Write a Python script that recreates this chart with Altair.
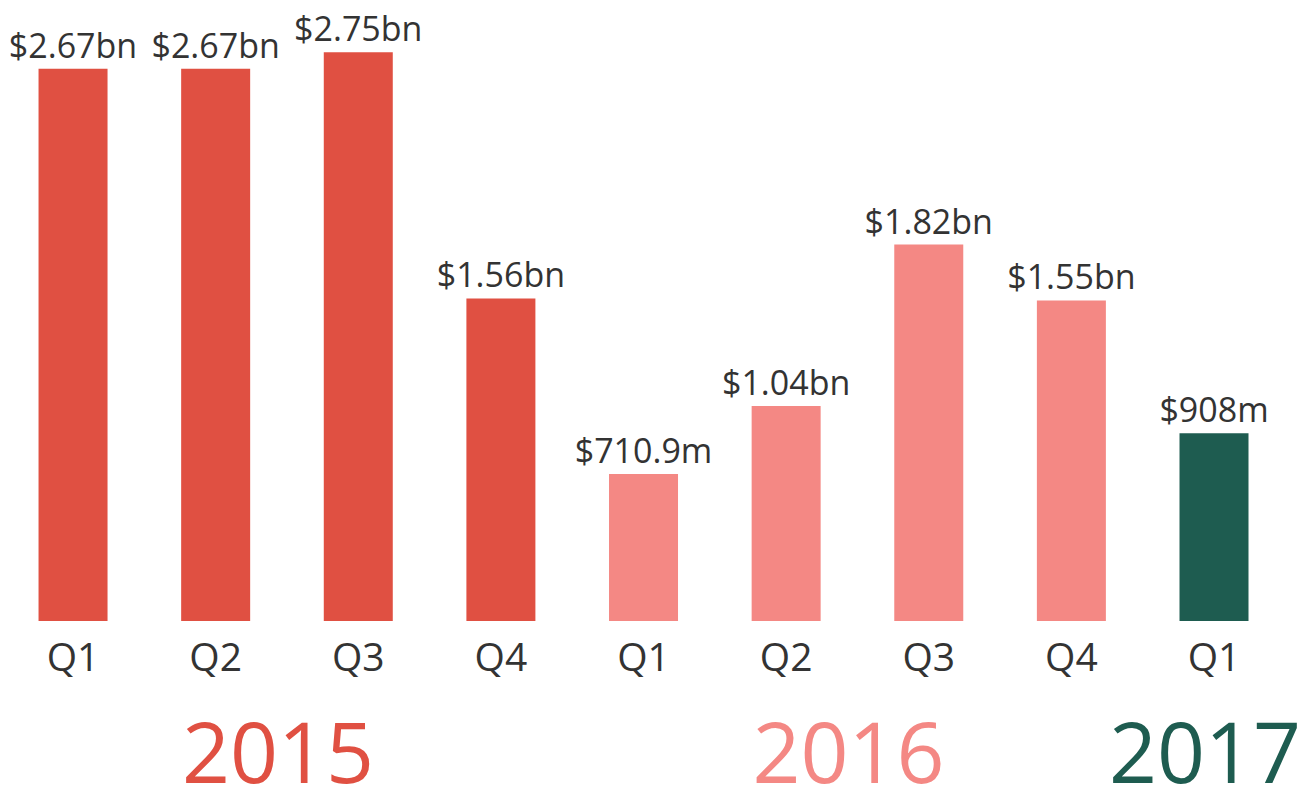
import altair as alt
import pandas as pd

years = ["2015", "2015", "2015", "2015", "2016", "2016", "2016", "2016", "2017"]
quarters = ["Q1", "Q2", "Q3", "Q4", "Q1", "Q2", "Q3", "Q4", "Q1"]
values_bn = [2.67, 2.67, 2.75, 1.56, 0.7109, 1.04, 1.82, 1.55, 0.908]
value_labels = ["$2.67bn", "$2.67bn", "$2.75bn", "$1.56bn", "$710.9m",
                "$1.04bn", "$1.82bn", "$1.55bn", "$908m"]
year_domain = ["2015", "2016", "2017"]
year_colors = ["#E05042", "#F48884", "#1E5C50"]

df = pd.DataFrame({
    "year": years,
    "quarter": quarters,
    "value": values_bn,
    "label": value_labels,
})

FONT = "Open Sans"
TEXT = "#333333"

base = alt.Chart(df).transform_window(idx="row_number()")

x_scale = alt.Scale(domain=[0.544, 9.624], nice=False, zero=False, padding=0)
y_scale = alt.Scale(domain=[-0.846, 2.964], nice=False, padding=0)
x = alt.X("idx:Q", scale=x_scale, axis=None)
color = alt.Color("year:N", scale=alt.Scale(domain=year_domain, range=year_colors), legend=None)

bars = base.mark_bar(width=69).encode(
    x=x,
    y=alt.Y("value:Q", scale=y_scale, axis=None),
    y2=alt.datum(0),
    color=color,
)

value_text = base.mark_text(
    baseline="alphabetic", dy=-11, fontSize=34, font=FONT, color=TEXT
).encode(
    x=x,
    y=alt.Y("value:Q", scale=y_scale, axis=None),
    text="label:N",
)

quarter_text = base.mark_text(
    baseline="alphabetic", dy=50, fontSize=39, font=FONT, color=TEXT
).encode(
    x=x,
    y=alt.datum(0),
    text="quarter:N",
)

year_text = base.transform_aggregate(
    idx="mean(idx)", groupby=["year"]
).mark_text(
    baseline="alphabetic", dy=162, dx=-9, fontSize=84, font=FONT
).encode(
    x=x,
    y=alt.datum(0),
    text="year:N",
    color=color,
)

chart = alt.layer(bars, value_text, quarter_text, year_text).properties(
    width=1295,
    height=788,
    padding=0,
    background="white",
    autosize=alt.AutoSizeParams(type="none"),
).configure_view(stroke=None)

chart.save("out.html", embed_options={"renderer": "svg", "actions": False})
